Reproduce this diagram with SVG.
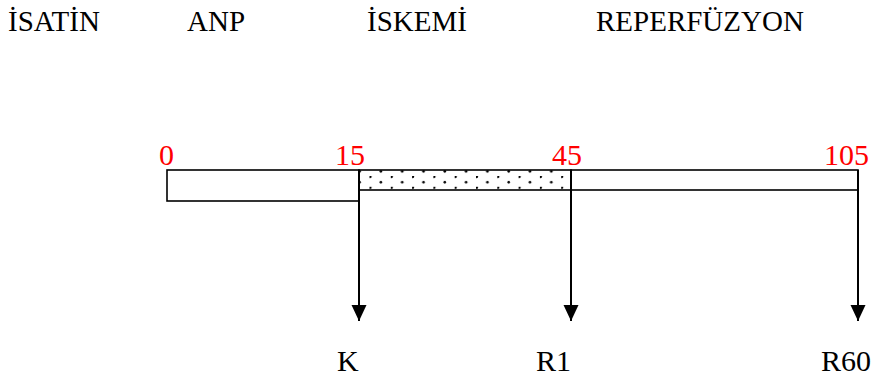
<svg xmlns="http://www.w3.org/2000/svg" width="875" height="381" viewBox="0 0 875 381">
  <style>
    text { font-family: 'Liberation Serif', 'Times New Roman', 'DejaVu Serif', serif; }
    .head { font-size: 29px; fill: #000; }
    .tick { font-size: 30px; fill: #ff0000; }
    .out { font-size: 30px; fill: #000; }
    .box { fill: #fff; stroke: #000; stroke-width: 1.6; }
    .conn { stroke: #000; stroke-width: 2; fill: none; }
  </style>
  <defs>
    <pattern id="dots" patternUnits="userSpaceOnUse" x="369.5" y="176" width="21.3" height="10.8">
      <rect width="21.3" height="10.8" fill="#fff"/>
      <circle cx="0.8" cy="0.8" r="1.3" fill="#000"/>
      <circle cx="11.4" cy="6.2" r="1.3" fill="#000"/>
    </pattern>
    <!-- arrowhead drawn along +x so orient="auto" turns it with the line -->
    <marker id="arrow" markerUnits="userSpaceOnUse" markerWidth="17" markerHeight="16" refX="16" refY="8" orient="auto" viewBox="0 0 17 16">
      <path d="M0 0.5 L16 8 L0 15.5 Z" fill="#000"/>
    </marker>
  </defs>

  <!-- phase headings -->
  <g id="headings">
    <text class="head" x="8" y="31">İSATİN</text>
    <text class="head" x="187" y="31">ANP</text>
    <text class="head" x="367" y="31">İSKEMİ</text>
    <text class="head" x="596" y="31">REPERFÜZYON</text>
  </g>

  <!-- time axis (minutes) -->
  <g id="ticks">
    <text class="tick" x="159" y="165">0</text>
    <text class="tick" x="335" y="165">15</text>
    <text class="tick" x="552" y="165">45</text>
    <text class="tick" x="824" y="165">105</text>
  </g>

  <!-- timeline segments -->
  <g id="seg-anp">
    <rect class="box" x="167" y="170" width="192" height="31"/>
  </g>
  <g id="seg-ischemia">
    <rect class="box" x="359" y="170" width="212" height="20" style="fill:url(#dots)"/>
  </g>
  <g id="seg-reperfusion">
    <rect class="box" x="571" y="170" width="287" height="20"/>
  </g>

  <!-- sampling connectors -->
  <g id="connectors">
    <line class="conn" x1="359" y1="170" x2="359" y2="321" marker-end="url(#arrow)"/>
    <line class="conn" x1="571" y1="170" x2="571" y2="321" marker-end="url(#arrow)"/>
    <line class="conn" x1="858" y1="170" x2="858" y2="321" marker-end="url(#arrow)"/>
  </g>

  <!-- sample labels -->
  <g id="sample-k"><text class="out" x="337" y="371">K</text></g>
  <g id="sample-r1"><text class="out" x="536" y="371">R1</text></g>
  <g id="sample-r60"><text class="out" x="821" y="371">R60</text></g>
</svg>
